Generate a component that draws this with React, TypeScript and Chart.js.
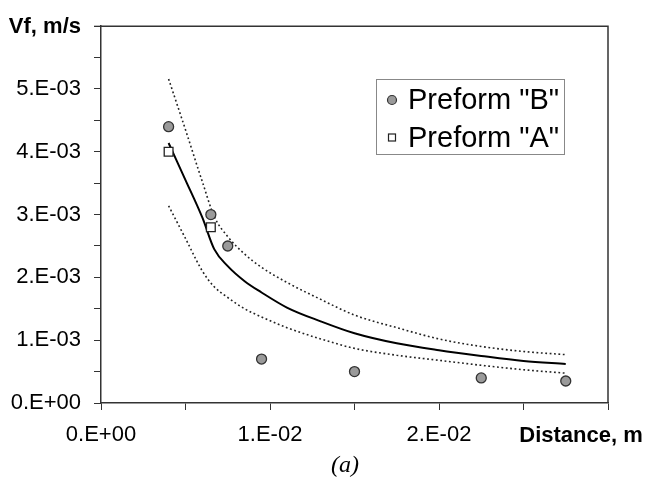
import React, { useEffect, useRef } from "react";
import { Chart, registerables } from "chart.js";

Chart.register(...registerables);

// Measured points
const preformBX = [0.004, 0.0065, 0.0075, 0.0095, 0.015, 0.0225, 0.0275];
const preformBY = [0.0044, 0.003, 0.0025, 0.0007, 0.0005, 0.0004, 0.00035];
const preformAX = [0.004, 0.0065];
const preformAY = [0.004, 0.0028];

// Model curve (solid) and bounds (dotted)
const curveX = [0.004, 0.005, 0.006, 0.0067, 0.0075, 0.0085, 0.0095, 0.011, 0.013, 0.015, 0.0175, 0.02, 0.0225, 0.025, 0.0275];
const modelY = [0.00414, 0.00355, 0.00295, 0.00245, 0.00218, 0.00194, 0.00176, 0.00152, 0.0013, 0.00111, 0.00095, 0.00084, 0.00075, 0.00067, 0.00062];
const upperY = [0.00516, 0.00435, 0.00352, 0.00297, 0.00265, 0.00237, 0.00216, 0.00192, 0.00165, 0.0014, 0.0012, 0.00102, 0.0009, 0.00082, 0.00077];
const lowerY = [0.00314, 0.00262, 0.0021, 0.00185, 0.00168, 0.0015, 0.00137, 0.0012, 0.00102, 0.00087, 0.00076, 0.00068, 0.0006, 0.00053, 0.000475];

// Axis labels
const yTitle = "Vf, m/s";
const xTitle = "Distance, m";
const caption = "(a)";
const legendLabels = ['Preform "B"', 'Preform "A"'];

const FONT = "'Liberation Sans', Arial, sans-serif";

const pts = (xs: number[], ys: number[]) => xs.map((x, i) => ({ x, y: ys[i] }));

export default function App() {
  const canvasRef = useRef<HTMLCanvasElement | null>(null);

  useEffect(() => {
    const canvas = canvasRef.current;
    if (!canvas) return;

    const decor = {
      id: "decor",
      afterDraw(chart: any) {
        const { ctx, chartArea } = chart;
        const { left, right, top, bottom } = chartArea;
        ctx.save();
        // top & right frame
        ctx.strokeStyle = "#333";
        ctx.lineWidth = 1.5;
        ctx.beginPath();
        ctx.moveTo(left, top);
        ctx.lineTo(right, top);
        ctx.lineTo(right, bottom);
        ctx.stroke();
        // tick at top of y axis
        ctx.lineWidth = 1;
        ctx.beginPath();
        ctx.moveTo(left - 7, top);
        ctx.lineTo(left, top);
        ctx.stroke();

        ctx.fillStyle = "#000";
        // y title
        ctx.font = `bold 22px ${FONT}`;
        ctx.textAlign = "right";
        ctx.textBaseline = "middle";
        ctx.fillText(yTitle, 81, top + 1);
        // x title
        ctx.textAlign = "center";
        ctx.fillText(xTitle, 581, 436);
        // caption
        ctx.font = `italic 24px 'Liberation Serif', 'Times New Roman', serif`;
        ctx.fillText(caption, 345, 466);

        // legend
        ctx.strokeStyle = "#888";
        ctx.lineWidth = 1;
        ctx.strokeRect(376.5, 79.5, 188, 75);
        // circle marker
        ctx.beginPath();
        ctx.arc(392, 100, 4.5, 0, Math.PI * 2);
        ctx.fillStyle = "#9a9a9a";
        ctx.fill();
        ctx.strokeStyle = "#333";
        ctx.lineWidth = 1.2;
        ctx.stroke();
        // square marker
        ctx.fillStyle = "#fff";
        ctx.fillRect(388.5, 134, 7, 7);
        ctx.strokeStyle = "#222";
        ctx.strokeRect(388.5, 134, 7, 7);
        ctx.fillStyle = "#000";
        ctx.font = `29px ${FONT}`;
        ctx.textAlign = "left";
        ctx.textBaseline = "alphabetic";
        ctx.fillText(legendLabels[0], 408, 109);
        ctx.fillText(legendLabels[1], 408, 147);
        ctx.restore();
      },
    };

    const chart = new Chart(canvas, {
      type: "line",
      data: {
        datasets: [
          {
            label: legendLabels[0],
            data: pts(preformBX, preformBY),
            showLine: false,
            pointStyle: "circle",
            pointRadius: 5,
            pointBackgroundColor: "#9a9a9a",
            pointBorderColor: "#333",
            pointBorderWidth: 1.3,
          },
          {
            label: legendLabels[1],
            data: pts(preformAX, preformAY),
            showLine: false,
            pointStyle: "rect",
            pointRadius: 6.2,
            pointBackgroundColor: "#fff",
            pointBorderColor: "#222",
            pointBorderWidth: 1.3,
          },
          {
            label: "model",
            data: pts(curveX, modelY),
            borderColor: "#000",
            borderWidth: 2,
            pointRadius: 0,
            cubicInterpolationMode: "monotone",
          },
          {
            label: "upper",
            data: pts(curveX, upperY),
            borderColor: "#222",
            borderWidth: 1.6,
            borderDash: [1.8, 2.6],
            pointRadius: 0,
            cubicInterpolationMode: "monotone",
          },
          {
            label: "lower",
            data: pts(curveX, lowerY),
            borderColor: "#222",
            borderWidth: 1.6,
            borderDash: [1.8, 2.6],
            pointRadius: 0,
            cubicInterpolationMode: "monotone",
          },
        ],
      },
      options: {
        animation: false,
        responsive: false,
        devicePixelRatio: 1,
        layout: { padding: { left: 0, top: 20, right: 40, bottom: 0 } },
        plugins: { legend: { display: false }, tooltip: { enabled: false } },
        scales: {
          x: {
            type: "linear",
            min: 0,
            max: 0.03,
            afterFit: (s: any) => {
              s.height = 82;
            },
            ticks: {
              stepSize: 0.005,
              autoSkip: false,
              maxRotation: 0,
              padding: 12,
              color: "#000",
              font: { family: FONT, size: 22 },
              callback: (v: any) => {
                const n = Math.round(Number(v) * 200);
                if (n % 2 !== 0 || n === 6) return "";
                const k = n / 2;
                return k === 0 ? "0.E+00" : `${k}.E-02`;
              },
            },
            grid: { drawOnChartArea: false, drawTicks: true, tickLength: 7, color: "#333", lineWidth: 1 },
            border: { display: true, color: "#333", width: 1.5 },
          },
          y: {
            type: "linear",
            min: 0,
            max: 0.006,
            afterFit: (s: any) => {
              s.width = 101;
            },
            ticks: {
              stepSize: 0.0005,
              autoSkip: false,
              padding: 13,
              color: "#000",
              font: { family: FONT, size: 22 },
              callback: (v: any) => {
                const n = Math.round(Number(v) * 2000);
                if (n % 2 !== 0 || n === 12) return "";
                const k = n / 2;
                return k === 0 ? "0.E+00" : `${k}.E-03`;
              },
            },
            grid: { drawOnChartArea: false, drawTicks: true, tickLength: 7, color: "#333", lineWidth: 1 },
            border: { display: true, color: "#333", width: 1.5 },
          },
        },
      },
      plugins: [decor],
    } as any);

    return () => chart.destroy();
  }, []);

  return (
    <div style={{ position: "fixed", left: 0, top: 0, width: 648, height: 485, background: "#fff" }}>
      <canvas ref={canvasRef} width={648} height={485} style={{ display: "block" }} />
    </div>
  );
}
